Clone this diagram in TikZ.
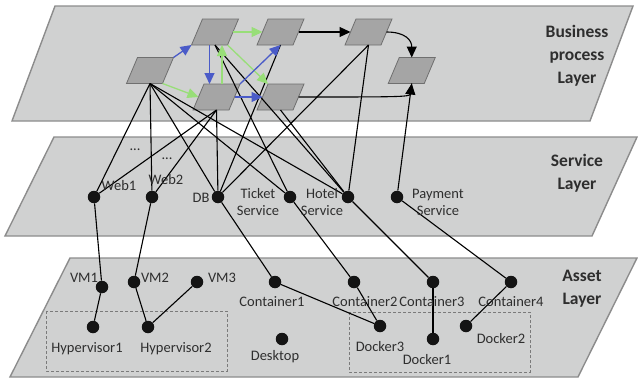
\documentclass[tikz,border=0pt]{standalone}
\usepackage{fontspec}
\setmainfont{Carlito}
\usetikzlibrary{arrows.meta,calc}
\definecolor{layerfill}{HTML}{D0D1D1}
\definecolor{layerdraw}{HTML}{8C8C8C}
\definecolor{procfill}{HTML}{A5A5A5}
\definecolor{procdraw}{HTML}{6F6F6F}
\definecolor{flowblue}{HTML}{4A5BC8}
\definecolor{flowgreen}{HTML}{98DE78}
\definecolor{txt}{HTML}{2E2E2E}
\definecolor{dashc}{HTML}{7A7A7A}
\tikzset{
  procshape/.style={fill=procfill,draw=procdraw,line width=0.8pt},
  pics/proc/.style={code={
    \draw[procshape] (-23.5,13) -- (12.5,13) -- (23.5,-13) -- (-12.5,-13) -- cycle;
    \coordinate (-c) at (0,0);
    \coordinate (-s) at (0,13);
    \coordinate (-n) at (0,-13);
    \coordinate (-e) at (18,0);
    \coordinate (-w) at (-18,0);
    \coordinate (-bl) at (-23.5,13);
    \coordinate (-br) at (12.5,13);
    \coordinate (-tl) at (-12.5,-13);
    \coordinate (-tr) at (23.5,-13);
    \coordinate (-bs) at (-5.5,13);
    \coordinate (-ts) at (5.5,-13);
  }}
}
\begin{document}
\begin{tikzpicture}[x=1pt,y=-1pt,
  layer/.style={fill=layerfill,draw=layerdraw,line width=1.4pt},
  dot/.style={circle,fill=black!92,minimum size=12.5pt,inner sep=0pt},
  lbl/.style={font=\fontsize{14.5}{17}\selectfont,text=txt,inner sep=0pt,align=center},
  ttl/.style={font=\fontsize{17.5}{23}\selectfont\bfseries,text=txt,align=center,inner sep=0pt},
  link/.style={draw=black,line width=1.1pt},
  tip/.style={-{Triangle[length=11pt,width=10pt]}},
  bflow/.style={draw=flowblue,line width=1.3pt,tip},
  gflow/.style={draw=flowgreen,line width=1.3pt,tip},
  kflow/.style={draw=black,line width=1.1pt,tip},
  group/.style={draw=dashc,line width=0.8pt,dash pattern=on 3pt off 2pt}
]
\useasboundingbox (0,0) rectangle (638,380);
% layers
\draw[layer] (55,6) -- (633,6) -- (590,121) -- (12,121) -- cycle;
\draw[layer] (54,137) -- (637,137) -- (592,236) -- (5,236) -- cycle;
\draw[layer] (70,258) -- (637,258) -- (578,377) -- (10,377) -- cycle;
% layer titles
\node[ttl] (tbp) at (577,56) {Business\\process\\Layer};
\node[ttl] (tsl) at (577,173) {Service\\Layer};
\node[ttl] (tal) at (582,289) {Asset\\Layer};
% groups
\draw[group] (46,311) rectangle (227,371);
\draw[group] (349,312) rectangle (530,372);
% business processes
\pic (p1) at (150,70.5) {proc};
\pic (p2) at (215,32) {proc};
\pic (p3) at (280.5,32) {proc};
\pic (p4) at (216.5,97) {proc};
\pic (p5) at (280.5,97) {proc};
\pic (p6) at (368.5,32) {proc};
\pic (p7) at (411.75,70.5) {proc};
% services
\node[dot] (web1) at (94,197) {};
\node[dot] (web2) at (152,197) {};
\node[dot] (db) at (218,197) {};
\node[dot] (ticket) at (290,197) {};
\node[dot] (hotel) at (348,197) {};
\node[dot] (payment) at (397,197) {};
% assets
\node[dot] (vm1) at (102,287) {};
\node[dot] (vm2) at (134,282) {};
\node[dot] (vm3) at (197,282) {};
\node[dot] (c1) at (275,282) {};
\node[dot] (c2) at (354,282) {};
\node[dot] (c3) at (433,282) {};
\node[dot] (c4) at (511,282) {};
\node[dot] (h1) at (93,327) {};
\node[dot] (h2) at (148,327) {};
\node[dot] (desk) at (282,339) {};
\node[dot] (d3) at (380,326) {};
\node[dot] (d1) at (433,339) {};
\node[dot] (d2) at (466,326) {};
% business to service links
\foreach \t in {web1,web2,db,ticket,hotel} \draw[link] (p1-s) -- (\t);
\foreach \t in {web1,web2,db} \draw[link] (p4-s) -- (\t);
\foreach \t in {ticket,hotel} \draw[link] (p2-s) -- (\t);
\draw[link] (p3-s) -- (db);
\draw[link] (p5-s) -- (hotel);
\foreach \t in {db,hotel} \draw[link] (p6-s) -- (\t);
\draw[link] (p7-s) -- (payment);
% service to asset links
\draw[link] (web1) -- (vm1);
\draw[link] (web2) -- (vm2);
\draw[link] (db) -- (c1);
\draw[link] (ticket) -- (c2);
\draw[link] (hotel) -- (c3);
\draw[link] (payment) -- (c4);
% asset links
\draw[link] (vm1) -- (h1);
\draw[link] (vm2) -- (h2);
\draw[link] (vm3) -- (h2);
\draw[link] (c1) -- (d3);
\draw[link] (c2) -- (d3);
\draw[link] (c3) -- (d1);
\draw[link] (c4) -- (d2);
% process flows
\draw[bflow] (p1-tr) -- (p2-bl);
\draw[bflow] (p2-bs) -- (p2-bs |- p4-n);
\draw[gflow] (p4-ts) -- (p4-ts |- p2-s);
\draw[gflow] (p1-br) -- (p4-w);
\draw[gflow] (p2-e) -- (p3-w);
\draw[gflow] (p2-br) -- (p5-tl);
\draw[bflow] (p4-tr) -- (p3-s);
\draw[bflow] (p4-e) -- (p5-w);
\draw[kflow] (p3-e) -- (p6-w);
\draw[kflow] (p6-e) .. controls (405,32) and (411.75,40) .. (p7-n);
\draw[kflow] (p5-e) .. controls (395,97) and (410,97) .. (p7-s);
% labels
\node[lbl] (lweb1) at (119,186) {Web1};
\node[lbl] (lweb2) at (166,180) {Web2};
\node[lbl] (ldots1) at (135,150) {...};
\node[lbl] (ldots2) at (167,159) {...};
\node[lbl] (ldb) at (201,198) {DB};
\node[lbl] (lticket) at (258,202) {Ticket\\Service};
\node[lbl] (lhotel) at (322,202) {Hotel\\Service};
\node[lbl] (lpay) at (438,202) {Payment\\Service};
\node[lbl] (lvm1) at (84,278) {VM1};
\node[lbl] (lvm2) at (155,278) {VM2};
\node[lbl] (lvm3) at (222,278) {VM3};
\node[lbl] (lc1) at (272,302) {Container1};
\node[lbl] (lc2) at (365,302) {Container2};
\node[lbl] (lc3) at (432,302) {Container3};
\node[lbl] (lc4) at (511,302) {Container4};
\node[lbl] (lh1) at (87,349) {Hypervisor1};
\node[lbl] (lh2) at (176,349) {Hypervisor2};
\node[lbl] (ldesk) at (275,357) {Desktop};
\node[lbl] (ld3) at (380,347) {Docker3};
\node[lbl] (ld1) at (427,360) {Docker1};
\node[lbl] (ld2) at (501,339) {Docker2};
\end{tikzpicture}
\end{document}
